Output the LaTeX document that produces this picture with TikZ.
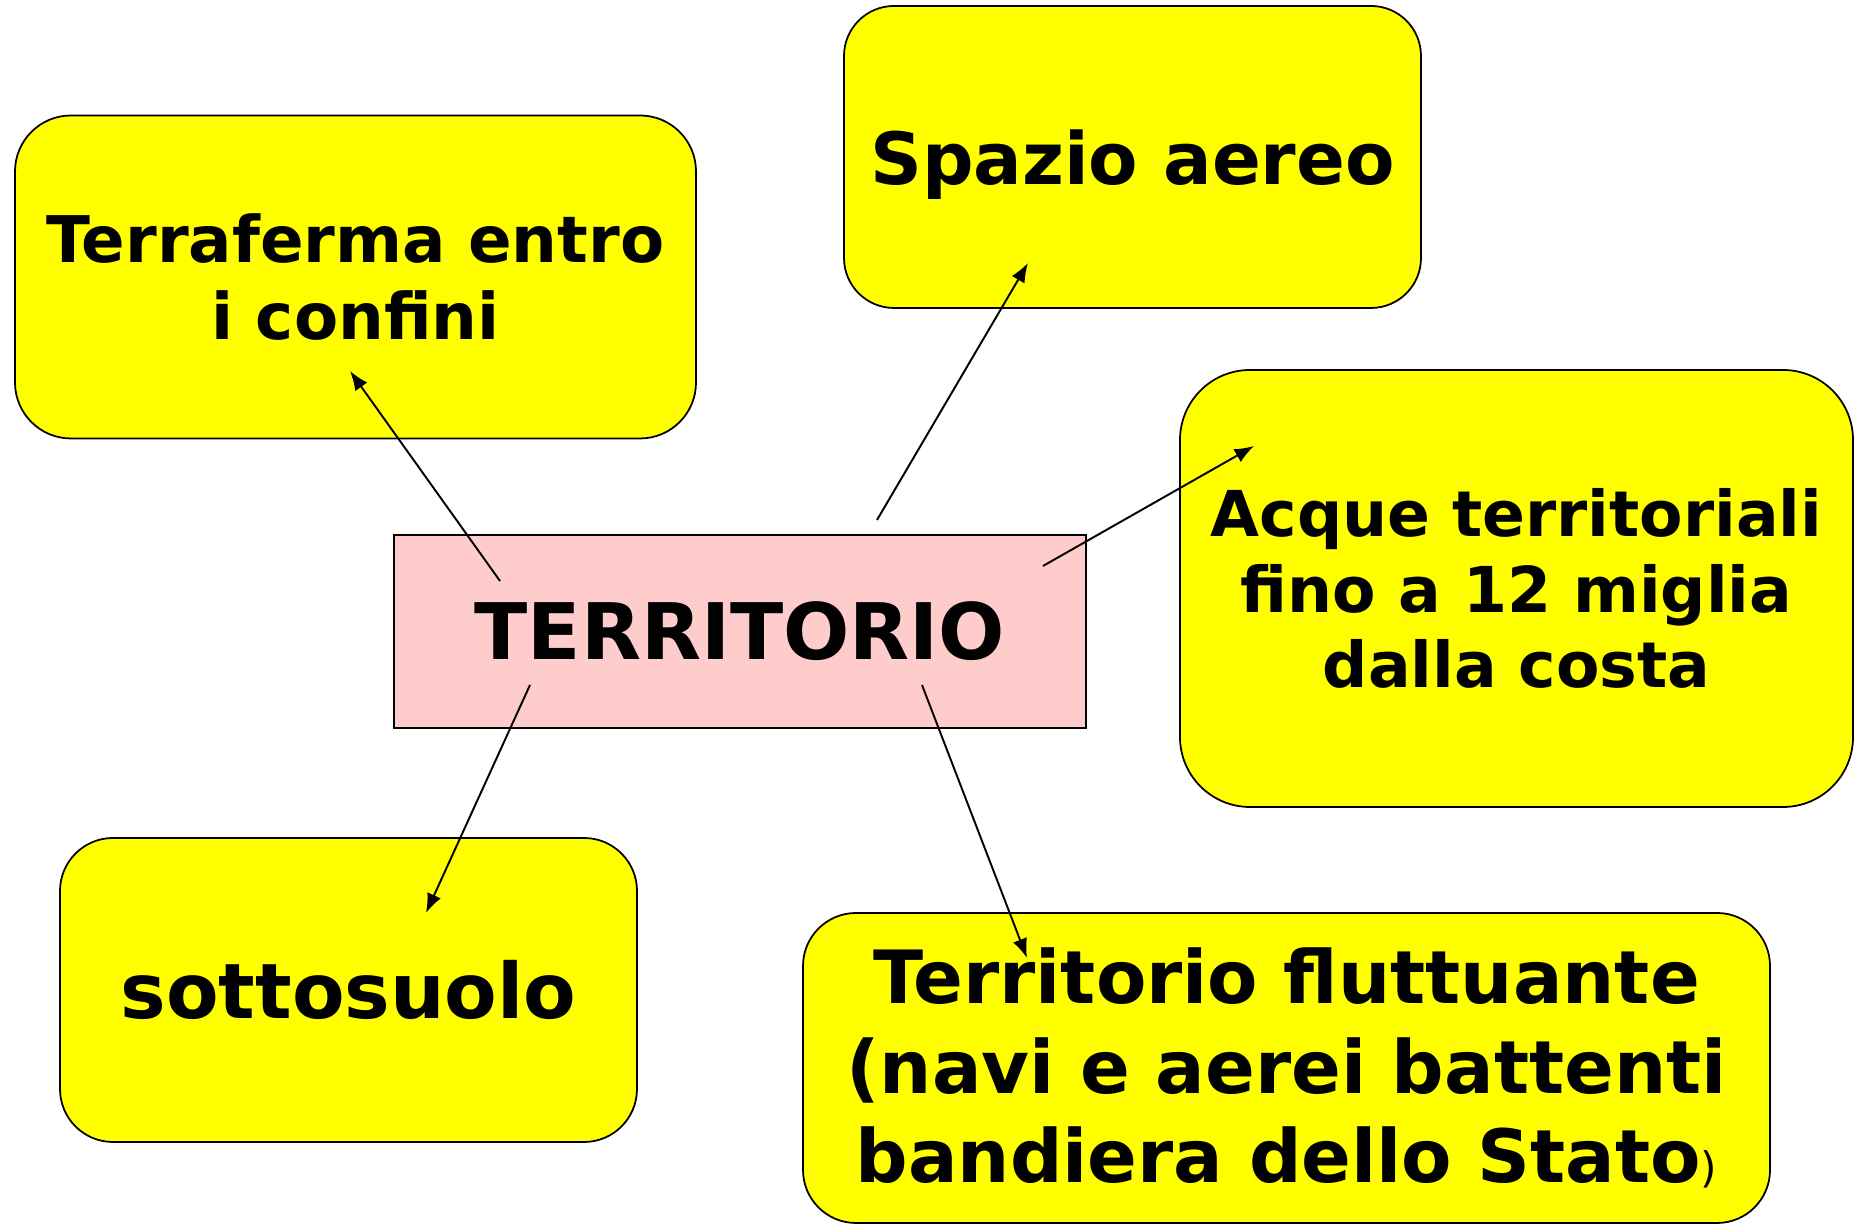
\documentclass[tikz,border=0pt]{standalone}
\usepackage{fontspec}
\setmainfont{DejaVu Sans}
\usepackage{xcolor}
\usepackage{tikz}
\usetikzlibrary{arrows}
\usetikzlibrary{arrows.meta}
\usetikzlibrary{shapes}
\usetikzlibrary{positioning}
\definecolor{giallo}{HTML}{FFFF00}
\definecolor{rosa}{HTML}{FFCCCC}
\tikzset{>=latex}
\tikzstyle{conc} = [draw=black, fill=giallo, line width=0.5pt, inner sep=0, align=center, font=\bfseries]
\tikzstyle{freccia} = [-{Latex[length=5.5pt, width=4.2pt]}, draw=black, line width=0.55pt]

\begin{document}
\begin{tikzpicture}
\useasboundingbox (0,0) rectangle (18.59,12.25);
\node [conc, rounded corners=0.56cm, minimum width=6.81cm, minimum height=3.23cm,
  font=\fontsize{18.3}{21.8}\selectfont\bfseries] (terraferma) at (3.555, 9.48) {Terraferma entro\\i confini};
\node [conc, rounded corners=0.5cm, minimum width=5.77cm, minimum height=3.02cm, text depth=0pt,
  font=\fontsize{20.5}{24}\selectfont\bfseries] (spazio) at (11.325, 10.68) {Spazio aereo};
\node [conc, rounded corners=0.7cm, minimum width=6.73cm, minimum height=4.37cm,
  font=\fontsize{18}{21.6}\selectfont\bfseries] (acque) at (15.165, 6.365) {Acque territoriali\\fino a 12 miglia\\dalla costa};
\node [conc, fill=rosa, rounded corners=0, minimum width=6.92cm, minimum height=1.93cm,
  font=\fontsize{22.2}{26}\selectfont\bfseries] (terr) at (7.40, 5.935) {TERRITORIO};
\node [conc, rounded corners=0.53cm, minimum width=5.77cm, minimum height=3.04cm,
  font=\fontsize{21.8}{26}\selectfont\bfseries] (sottosuolo) at (3.485, 2.35) {sottosuolo};
\node [conc, rounded corners=0.53cm, minimum width=9.67cm, minimum height=3.10cm,
  font=\fontsize{20.9}{25.5}\selectfont\bfseries] (fluttuante) at (12.865, 1.57)
  {Territorio fluttuante\\(navi e aerei battenti\\bandiera dello Stato{\normalfont\rmfamily\fontsize{12}{14}\selectfont)}};
% punti di partenza e di arrivo delle frecce
\coordinate (t1) at (5.00, 6.44);
\coordinate (t2) at (8.77, 7.05);
\coordinate (t3) at (10.43, 6.59);
\coordinate (t4) at (5.30, 5.40);
\coordinate (t5) at (9.22, 5.40);
\coordinate (terraferma-in) at (3.50, 8.54);
\coordinate (spazio-in) at (10.28, 9.62);
\coordinate (acque-in) at (12.54, 7.79);
\coordinate (sottosuolo-in) at (4.26, 3.12);
\coordinate (fluttuante-in) at (10.27, 2.67);
\draw [freccia] (t1) to (terraferma-in);
\draw [freccia] (t2) to (spazio-in);
\draw [freccia] (t3) to (acque-in);
\draw [freccia] (t4) to (sottosuolo-in);
\draw [freccia] (t5) to (fluttuante-in);
\end{tikzpicture}
\end{document}
